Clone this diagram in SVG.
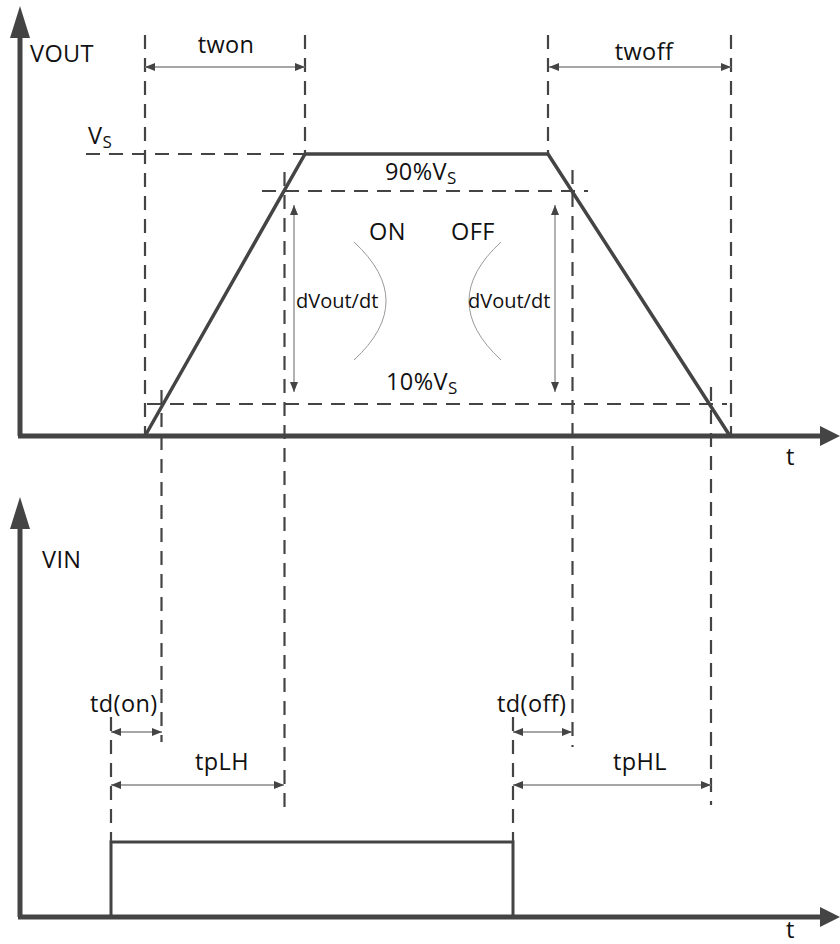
<svg xmlns="http://www.w3.org/2000/svg" width="840" height="944" viewBox="0 0 840 944">
<defs>
<style>
.axis{stroke:#444;stroke-width:5;fill:none}
.wave{stroke:#444;stroke-width:3.5;fill:none;stroke-linejoin:miter}
.pulse{stroke:#444;stroke-width:3;fill:none}
.dash{stroke:#444;stroke-width:2.2;stroke-dasharray:14 9;fill:none}
.dim{stroke:#888;stroke-width:1.3;fill:none;marker-start:url(#ah);marker-end:url(#ah)}
.arc{stroke:#999;stroke-width:1;fill:none}
.lbl{font-family:"Open Sans","DejaVu Sans",sans-serif;font-size:23.5px;fill:#111;letter-spacing:0.4px}
.sm{font-family:"Open Sans","DejaVu Sans",sans-serif;font-size:20px;fill:#111}
.sub{font-size:17px}
</style>
<marker id="ah" viewBox="0 0 10 10" refX="10" refY="5" markerWidth="10" markerHeight="10" markerUnits="userSpaceOnUse" orient="auto-start-reverse">
<path d="M0,1 L10,5 L0,9 Z" fill="#444"/>
</marker>
</defs>

<g id="axes">
<line class="axis" x1="20" y1="30" x2="20" y2="436"/>
<line class="axis" x1="18" y1="436" x2="822" y2="436"/>
<path d="M20,6 L30,38 L10,38 Z" fill="#444"/>
<path d="M840,436 L820,426 L820,446 Z" fill="#444"/>
<line class="axis" x1="20" y1="524" x2="20" y2="917"/>
<line class="axis" x1="18" y1="917" x2="822" y2="917"/>
<path d="M20,497 L30,529 L10,529 Z" fill="#444"/>
<path d="M840,917 L820,907 L820,927 Z" fill="#444"/>
</g>

<g id="connectors">
<line class="dash" x1="145" y1="35" x2="145" y2="436"/>
<line class="dash" x1="305" y1="35" x2="305" y2="153"/>
<line class="dash" x1="548" y1="35" x2="548" y2="153"/>
<line class="dash" x1="731" y1="35" x2="731" y2="436"/>
<line class="dash" x1="86" y1="154" x2="305" y2="154"/>
<line class="dash" x1="262" y1="191" x2="588" y2="191"/>
<line class="dash" x1="147" y1="404" x2="727" y2="404"/>
<line class="dash" x1="161.5" y1="390" x2="161.5" y2="742"/>
<line class="dash" x1="284.5" y1="172" x2="284.5" y2="811"/>
<line class="dash" x1="572.5" y1="170" x2="572.5" y2="747"/>
<line class="dash" x1="711" y1="387" x2="711" y2="805"/>
<line class="dash" x1="111" y1="717" x2="111" y2="842"/>
<line class="dash" x1="513" y1="717" x2="513" y2="842"/>

<line class="dim" x1="145" y1="67" x2="305" y2="67"/>
<line class="dim" x1="549" y1="67" x2="731" y2="67"/>
<line class="dim" x1="294" y1="205" x2="294" y2="392"/>
<line class="dim" x1="555" y1="205" x2="555" y2="392"/>
<line class="dim" x1="111" y1="732" x2="162" y2="732"/>
<line class="dim" x1="111" y1="785" x2="284" y2="785"/>
<line class="dim" x1="513" y1="732" x2="572" y2="732"/>
<line class="dim" x1="513" y1="785" x2="711" y2="785"/>

<path class="arc" d="M354,242 Q418,301 354,360"/>
<path class="arc" d="M501,242 Q437,301 501,360"/>
</g>

<g id="vout-wave">
<polyline class="wave" points="145,436 305,154 548,154 730,436"/>
</g>

<g id="vin-pulse">
<polyline class="pulse" points="111,917 111,842 513,842 513,917"/>
</g>

<g id="labels">
<text class="lbl" x="30" y="62">VOUT</text>
<text class="lbl" x="226" y="53" text-anchor="middle">twon</text>
<text class="lbl" x="644" y="60" text-anchor="middle">twoff</text>
<text class="lbl" x="88" y="144">V<tspan class="sub" dy="4">S</tspan></text>
<text class="lbl" x="385" y="180">90%V<tspan class="sub" dy="4">S</tspan></text>
<text class="lbl" x="386" y="390">10%V<tspan class="sub" dy="4">S</tspan></text>
<text class="lbl" x="369" y="240">ON</text>
<text class="lbl" x="451" y="240">OFF</text>
<text class="sm" x="296" y="308">dVout/dt</text>
<text class="sm" x="468" y="308">dVout/dt</text>
<text class="lbl" x="786" y="465">t</text>
<text class="lbl" x="42" y="568">VIN</text>
<text class="lbl" x="90" y="712">td(on)</text>
<text class="lbl" x="195" y="770">tpLH</text>
<text class="lbl" x="497" y="712">td(off)</text>
<text class="lbl" x="613" y="770">tpHL</text>
<text class="lbl" x="786" y="938">t</text>
</g>
</svg>
